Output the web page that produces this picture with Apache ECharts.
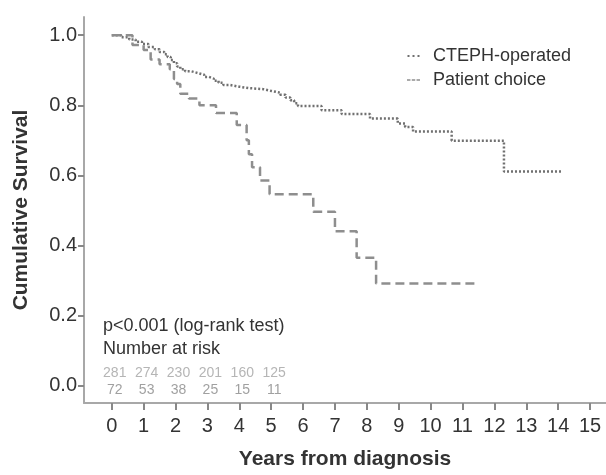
<!DOCTYPE html>
<html>
<head>
<meta charset="utf-8">
<script src="https://cdn.jsdelivr.net/npm/echarts@6/dist/echarts.min.js"></script>
<style>html,body{margin:0;padding:0;background:#fff;}#c{width:606px;height:475px;}</style>
</head>
<body>
<div id="c"></div>
<script>
// ---- data ----
const xTicks = [0,1,2,3,4,5,6,7,8,9,10,11,12,13,14,15];
const yTicks = [0,0.2,0.4,0.6,0.8,1.0];
const seriesNames = ['CTEPH-operated', 'Patient choice'];
// Kaplan-Meier steps: [years, cumulative survival]
const ctephOperated = [
  [0,1.0],[0.3,0.994],[0.55,0.988],[0.75,0.981],[0.95,0.975],[1.15,0.966],[1.35,0.96],
  [1.5,0.952],[1.65,0.946],[1.75,0.938],[1.85,0.929],[1.95,0.92],[2.05,0.911],[2.15,0.903],
  [2.3,0.897],[2.5,0.892],[2.7,0.887],[2.9,0.881],[3.05,0.876],[3.2,0.87],[3.35,0.864],
  [3.5,0.858],[3.7,0.853],[4.0,0.849],[4.3,0.846],[4.75,0.841],[5.0,0.836],[5.28,0.83],
  [5.45,0.822],[5.6,0.814],[5.72,0.806],[5.84,0.798],[6.58,0.786],[7.21,0.775],[8.1,0.762],
  [8.97,0.748],[9.2,0.738],[9.45,0.725],[10.66,0.699],[12.3,0.611],[14.15,0.611]
];
const patientChoice = [
  [0,1.0],[0.65,0.972],[1.0,0.958],[1.22,0.931],[1.5,0.917],[1.82,0.903],[1.95,0.875],
  [2.05,0.861],[2.15,0.833],[2.42,0.819],[2.75,0.80],[3.27,0.778],[3.92,0.744],[4.23,0.70],
  [4.3,0.66],[4.4,0.623],[4.65,0.585],[4.95,0.546],[6.32,0.496],[7.0,0.44],[7.68,0.365],
  [8.29,0.291],[11.52,0.291]
];
const riskTimes = [0,1,2,3,4,5];
const riskCTEPH = [281,274,230,201,160,125];
const riskPatient = [72,53,38,25,15,11];
const pText = 'p<0.001 (log-rank test)';
const riskTitle = 'Number at risk';
const xTitle = 'Years from diagnosis';
const yTitle = 'Cumulative Survival';

// ---- chart ----
const FONT = '"Liberation Sans", Arial, Helvetica, sans-serif';
const axisGrey = '#a8a8a8';
const chart = echarts.init(document.getElementById('c'), null, {renderer:'canvas'});
const ROW1 = 0.036, ROW2 = -0.014;
function riskSeries(counts, yPos, color){
  return {
    type:'scatter', silent:true, symbolSize:1, itemStyle:{color:'rgba(0,0,0,0)'},
    data: riskTimes.map((t,i)=>[t, yPos, counts[i]]),
    label:{show:true, position:'inside', offset:[3,0], formatter:p=>String(p.data[2]),
      fontFamily:FONT, fontSize:14, color:color}
  };
}
const dotsIcon = 'path://M0,0h2v2h-2zM5,0h2v2h-2zM10,0h2v2h-2z';
const dashIcon = 'path://M0,0h3.2v1.6h-3.2zM4.4,0h3.2v1.6h-3.2zM8.8,0h3.2v1.6h-3.2z';
chart.setOption({
  animation:false,
  backgroundColor:'#fff',
  grid:{left:84, right:0, top:17, bottom:65, containLabel:false},
  xAxis:{
    type:'value', min:-0.87, max:15.5,
    name:xTitle, nameLocation:'middle', nameGap:46,
    nameTextStyle:{fontFamily:FONT, fontSize:21, fontWeight:'bold', color:'#333'},
    axisLine:{show:true, onZero:false, lineStyle:{color:axisGrey, width:2}},
    axisTick:{show:true, customValues:xTicks, length:7, lineStyle:{color:'#888', width:2}},
    axisLabel:{customValues:xTicks, margin:13, fontFamily:FONT, fontSize:20, color:'#333'},
    splitLine:{show:false}
  },
  yAxis:{
    type:'value', min:-0.05, max:1.052,
    name:yTitle, nameLocation:'middle', nameGap:52, nameRotate:90,
    nameTextStyle:{fontFamily:FONT, fontSize:21, fontWeight:'bold', color:'#333'},
    axisLine:{show:true, onZero:false, lineStyle:{color:axisGrey, width:2}},
    axisTick:{show:true, customValues:yTicks, length:6, lineStyle:{color:'#888', width:2}},
    axisLabel:{customValues:yTicks, margin:7, formatter:v=>v.toFixed(1), fontFamily:FONT, fontSize:20, color:'#333'},
    splitLine:{show:false}
  },
  legend:{
    data:[{name:seriesNames[0], icon:dotsIcon},{name:seriesNames[1], icon:dashIcon}],
    orient:'vertical', left:402, top:42,
    itemWidth:13, itemHeight:2, itemGap:6,
    textStyle:{fontFamily:FONT, fontSize:18, color:'#333', padding:[0,0,0,8]}
  },
  series:[
    {name:seriesNames[0], type:'line', step:'end', symbol:'none', data:ctephOperated,
      lineStyle:{color:'#707070', width:2.5, type:[2,2]}, itemStyle:{color:'#707070'}},
    {name:seriesNames[1], type:'line', step:'end', symbol:'none', data:patientChoice,
      lineStyle:{color:'#8e8e8e', width:2.5, type:[9,5]}, itemStyle:{color:'#8e8e8e'}},
    riskSeries(riskCTEPH, ROW1, '#a3a3a3'),
    riskSeries(riskPatient, ROW2, '#888888')
  ],
  graphic:[
    {type:'text', left:103, top:317, style:{text:pText, font:'18px '+FONT, fill:'#333'}},
    {type:'text', left:103, top:340, style:{text:riskTitle, font:'18px '+FONT, fill:'#333'}}
  ]
});
</script>
</body>
</html>
